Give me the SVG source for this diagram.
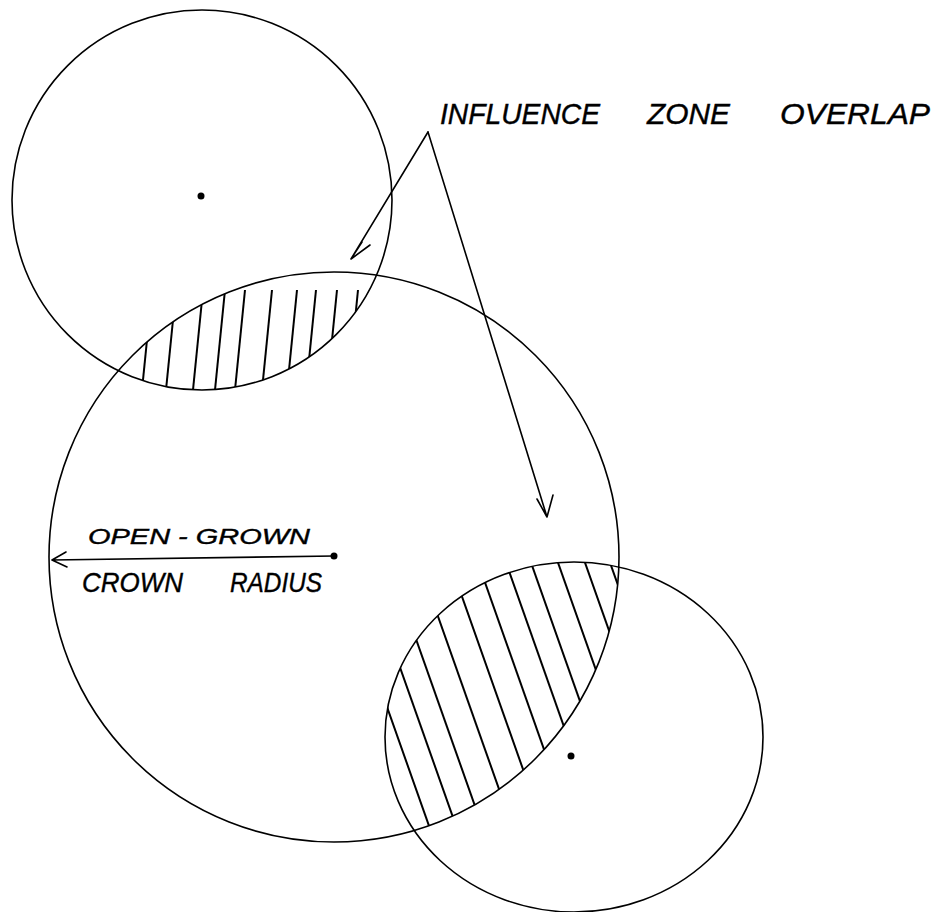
<svg xmlns="http://www.w3.org/2000/svg" width="946" height="912" viewBox="0 0 946 912">
<style>
.c{fill:none;stroke:#000;stroke-width:1.6}
.h{stroke:#000;stroke-width:2}
.a{fill:none;stroke:#000;stroke-width:1.6;stroke-linecap:round;stroke-linejoin:round}
.t{font-family:"Liberation Sans",Arial,sans-serif;font-style:italic;fill:#000;stroke:#000;stroke-width:0.4}
</style>
<defs>
<clipPath id="cTop"><circle cx="202" cy="200" r="190"/></clipPath>
<clipPath id="cBig"><circle cx="334" cy="557" r="285"/></clipPath>
<clipPath id="cBR"><ellipse cx="574" cy="737" rx="189" ry="175"/></clipPath>
</defs>
<rect width="946" height="912" fill="#fff"/>

<g id="tree-top">
<circle class="c" cx="202" cy="200" r="190"/>
<circle cx="201" cy="196" r="3.5"/>
</g>
<g id="tree-main">
<circle class="c" cx="334" cy="557" r="285"/>
<circle cx="334" cy="556" r="3.5"/>
</g>
<g id="tree-bottom">
<ellipse class="c" cx="574" cy="737" rx="189" ry="175"/>
<circle cx="571" cy="756" r="3.5"/>
</g>

<g id="overlap-upper" clip-path="url(#cTop)">
<g clip-path="url(#cBig)">
<line class="h" x1="141" y1="400" x2="152" y2="290"/>
<line class="h" x1="165" y1="400" x2="176" y2="290"/>
<line class="h" x1="192" y1="400" x2="203" y2="290"/>
<line class="h" x1="214" y1="400" x2="225" y2="290"/>
<line class="h" x1="234" y1="400" x2="245" y2="290"/>
<line class="h" x1="261" y1="400" x2="272" y2="290"/>
<line class="h" x1="286" y1="400" x2="297" y2="290"/>
<line class="h" x1="305" y1="400" x2="316" y2="290"/>
<line class="h" x1="326" y1="400" x2="337" y2="290"/>
<line class="h" x1="347" y1="400" x2="358" y2="290"/>
</g>
</g>

<g id="overlap-lower" clip-path="url(#cBig)">
<g clip-path="url(#cBR)">
<line class="h" x1="328" y1="540" x2="434" y2="840"/>
<line class="h" x1="355" y1="540" x2="461" y2="840"/>
<line class="h" x1="381" y1="540" x2="487" y2="840"/>
<line class="h" x1="411" y1="540" x2="517" y2="840"/>
<line class="h" x1="442" y1="540" x2="548" y2="840"/>
<line class="h" x1="470" y1="540" x2="576" y2="840"/>
<line class="h" x1="498" y1="540" x2="604" y2="840"/>
<line class="h" x1="523" y1="540" x2="629" y2="840"/>
<line class="h" x1="550" y1="540" x2="656" y2="840"/>
<line class="h" x1="577" y1="540" x2="683" y2="840"/>
<line class="h" x1="602" y1="540" x2="708" y2="840"/>
</g>
</g>

<g id="connectors">
<path class="a" d="M428,132 L351,259 M351,259 L370,245 M351,259 L362,242"/>
<path class="a" d="M428,132 L547,517 M547,517 L537,499 M547,517 L553,495"/>
<path class="a" d="M334,556 L52,560 M52,560 L66,552 M52,560 L67,567"/>
</g>

<g id="label-overlap">
<text class="t" x="440" y="124" font-size="29" textLength="160" lengthAdjust="spacingAndGlyphs">INFLUENCE</text>
<text class="t" x="647" y="124" font-size="29" textLength="83" lengthAdjust="spacingAndGlyphs">ZONE</text>
<text class="t" x="780" y="124" font-size="29" textLength="150" lengthAdjust="spacingAndGlyphs">OVERLAP</text>
</g>
<g id="label-radius">
<text class="t" x="88" y="544" font-size="22" textLength="222" lengthAdjust="spacingAndGlyphs">OPEN - GROWN</text>
<text class="t" x="82" y="592" font-size="28" textLength="101" lengthAdjust="spacingAndGlyphs">CROWN</text>
<text class="t" x="230" y="592" font-size="28" textLength="92" lengthAdjust="spacingAndGlyphs">RADIUS</text>
</g>
</svg>
